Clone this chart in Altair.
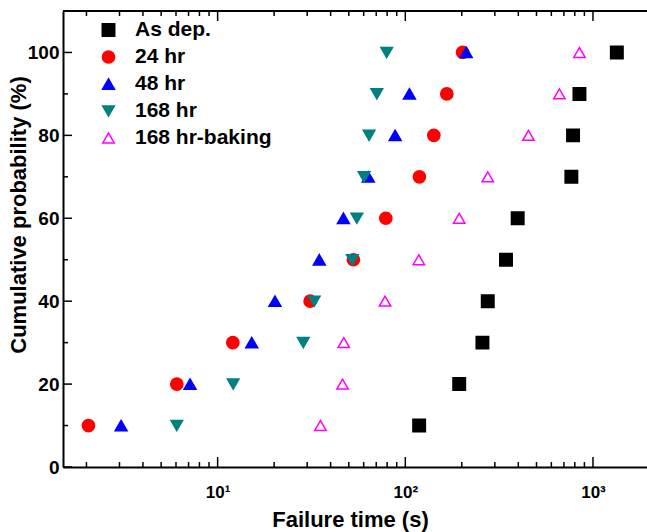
import altair as alt
import pandas as pd

# ---- data ----
series_names = ["As dep.", "24 hr", "48 hr", "168 hr", "168 hr-baking"]
probability = [10, 20, 30, 40, 50, 60, 70, 80, 90, 100]
as_dep = [118.5, 193.7, 257.6, 275, 344, 397, 767, 783, 847, 1340]
hr24 = [2.05, 6.06, 12.05, 31.1, 52.9, 78.7, 118.9, 141.9, 166.4, 202]
hr48 = [3.06, 7.13, 15.2, 20.2, 34.8, 46.8, 63.5, 88.3, 105.2, 211]
hr168 = [6.06, 12.1, 28.6, 32.7, 52.2, 55.2, 60.3, 64.1, 70.5, 79.6]
hr168_baking = [35.3, 46.3, 47.0, 78.0, 118, 193.7, 275, 453, 662, 847]

x_major_ticks = [10, 100, 1000]
x_minor_ticks = [2, 3, 4, 5, 6, 7, 8, 9, 20, 30, 40, 50, 60, 70, 80, 90,
                 200, 300, 400, 500, 600, 700, 800, 900]
y_major_ticks = [0, 20, 40, 60, 80, 100]
y_minor_ticks = [10, 30, 50, 70, 90]

# ---- styles ----
colors = ["#000000", "#ff0000", "#0000ff", "#008080", "#ff00ff"]
fills = ["#000000", "#ff0000", "#0000ff", "#008080", "transparent"]
shapes = ["square", "circle", "triangle-up", "triangle-down", "triangle-up"]
sizes = [155, 130, 245, 245, 240]

W, H = 584, 456

rows = []
for name, vals in zip(series_names, [as_dep, hr24, hr48, hr168, hr168_baking]):
    for t, p in zip(vals, probability):
        rows.append({"series": name, "time": t, "prob": p})
df = pd.DataFrame(rows)

FONT = "Liberation Sans"

x_scale = alt.Scale(type="log", domain=[1.5, 1940], nice=False)
y_scale = alt.Scale(domain=[0, 110], nice=False)

x_axis_main = alt.Axis(
    orient="bottom", values=x_major_ticks, ticks=False,
    labelExpr="datum.value == 10 ? '10\u00b9' : datum.value == 100 ? '10\u00b2' : datum.value == 1000 ? '10\u00b3' : ''",
    labelBaseline="alphabetic", labelPadding=30, labelFontSize=17,
    labelFlush=False, labelOverlap=False,
    title="Failure time (s)", titleX=287, titleY=59, titleBaseline="alphabetic",
    titleAlign="center", titleFontSize=22,
    domainWidth=2, grid=False,
)
y_axis_main = alt.Axis(
    orient="left", values=y_major_ticks, ticks=False,
    labelPadding=4, labelFontSize=19,
    title="Cumulative probability (%)", titleX=-38, titleY=203.5,
    titleAngle=270, titleBaseline="alphabetic", titleAlign="center", titleFontSize=22,
    domainWidth=2, grid=False,
)

legend = alt.Legend(
    title=None, orient="none", legendX=35, legendY=8.5,
    labelFontSize=21, labelFont=FONT, labelFontWeight="bold", labelColor="black",
    labelOffset=16, rowPadding=5, padding=0, symbolStrokeWidth=1.5,
)

points = alt.Chart(df).mark_point(filled=False, strokeWidth=1.5, opacity=1).encode(
    x=alt.X("time:Q", scale=x_scale, axis=x_axis_main),
    y=alt.Y("prob:Q", scale=y_scale, axis=y_axis_main),
    color=alt.Color("series:N", scale=alt.Scale(domain=series_names, range=colors), legend=legend),
    fill=alt.Fill("series:N", scale=alt.Scale(domain=series_names, range=fills), legend=legend),
    shape=alt.Shape("series:N", scale=alt.Scale(domain=series_names, range=shapes), legend=legend),
    size=alt.Size("series:N", scale=alt.Scale(domain=series_names, range=sizes), legend=legend),
)


def x_ticks(values, y_from, y_to):
    # inward-pointing tick marks placed through the x scale
    return alt.Chart(pd.DataFrame({"time": values})).mark_rule(
        color="black", strokeWidth=1.5
    ).encode(
        x=alt.X("time:Q", scale=x_scale),
        y=alt.value(y_from), y2=alt.value(y_to),
    )


def y_ticks(values, length):
    return alt.Chart(pd.DataFrame({"prob": values})).mark_rule(
        color="black", strokeWidth=1.5
    ).encode(
        y=alt.Y("prob:Q", scale=y_scale),
        x=alt.value(0), x2=alt.value(length),
    )


top_line = alt.Chart(pd.DataFrame({"v": [0]})).mark_rule(
    color="black", strokeWidth=2
).encode(x=alt.value(0), x2=alt.value(W), y=alt.value(0))

layers = [
    points,
    x_ticks(x_major_ticks, H, H - 10),
    x_ticks(x_minor_ticks, H, H - 5),
    x_ticks(x_major_ticks, 0, 10),
    x_ticks(x_minor_ticks, 0, 5),
    y_ticks(y_major_ticks, 9),
    y_ticks(y_minor_ticks, 5),
    top_line,
]

chart = alt.layer(*layers).properties(
    width=W, height=H,
    autosize=alt.AutoSizeParams(type="none"),
    padding={"left": 63, "top": 11, "right": 0, "bottom": 65},
).configure_view(stroke=None).configure_axis(
    labelFont=FONT, labelFontWeight="bold", labelColor="black",
    titleFont=FONT, titleFontWeight="bold", titleColor="black",
    domainColor="black", tickColor="black",
)

chart.save("out.html", embed_options={"renderer": "svg", "actions": False})
